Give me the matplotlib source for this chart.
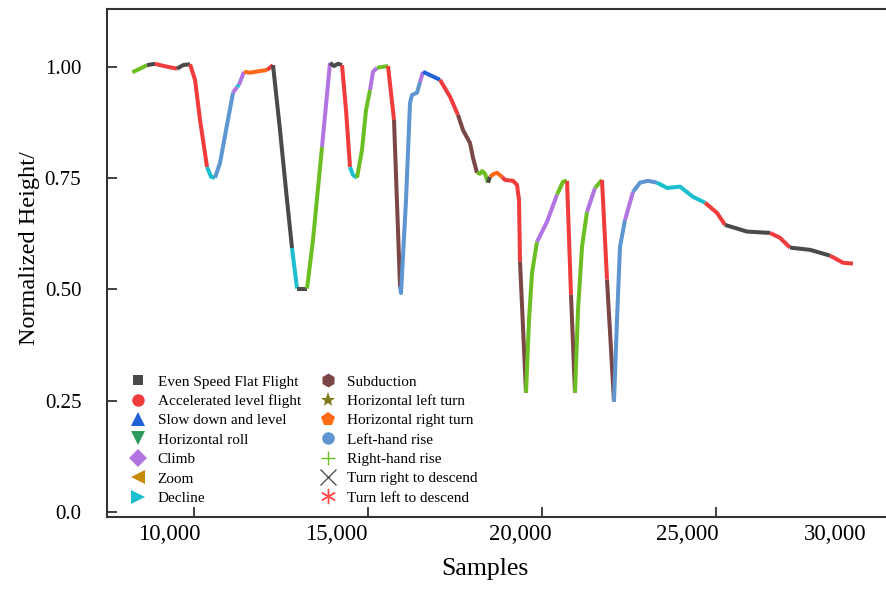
import matplotlib
matplotlib.use('Agg')
import matplotlib.pyplot as plt
from matplotlib.lines import Line2D
from matplotlib.transforms import ScaledTranslation

plt.rcParams['font.family'] = ['Liberation Serif', 'DejaVu Serif']

# flight path
samples = [8227, 8448, 8649, 8879, 9023, 9253, 9511, 9684, 9885, 10029,
           10172, 10374, 10489, 10603, 10747, 10920, 11121, 11236, 11293, 11437,
           11609, 11839, 12098, 12270, 12471, 12672, 12816, 12960, 13247, 13420,
           13678, 13908, 14023, 14138, 14253, 14368, 14483, 14569, 14684, 14828,
           14943, 15058, 15144, 15259, 15575, 15747, 15920, 15948, 16092, 16207,
           16264, 16408, 16494, 16581, 17069, 17356, 17586, 17730, 17931, 18017,
           18132, 18218, 18276, 18362, 18448, 18506, 18621, 18707, 18851, 18937,
           19167, 19282, 19339, 19368, 19540, 19627, 19713, 19856, 20144, 20431,
           20604, 20719, 20833, 20948, 21035, 21150, 21293, 21523, 21724, 21868,
           22069, 22155, 22242, 22385, 22615, 22816, 23046, 23305, 23592, 23966,
           24339, 24684, 25029, 25259, 25891, 26552, 26839, 27127, 27701, 28276,
           28650, 28937]
height = [0.988, 0.996, 1.004, 1.007, 1.004, 1.000, 0.996, 1.004, 1.006, 0.971,
          0.881, 0.775, 0.753, 0.751, 0.784, 0.858, 0.942, 0.955, 0.960, 0.989,
          0.987, 0.990, 0.993, 1.004, 0.858, 0.701, 0.593, 0.502, 0.502, 0.612,
          0.820, 1.009, 1.002, 1.007, 1.004, 0.903, 0.775, 0.757, 0.751, 0.814,
          0.903, 0.948, 0.989, 0.998, 1.002, 0.881, 0.506, 0.492, 0.701, 0.919,
          0.937, 0.942, 0.966, 0.989, 0.971, 0.933, 0.892, 0.858, 0.829, 0.796,
          0.762, 0.760, 0.766, 0.760, 0.740, 0.753, 0.760, 0.762, 0.753, 0.746,
          0.744, 0.735, 0.701, 0.562, 0.268, 0.432, 0.537, 0.607, 0.652, 0.713,
          0.742, 0.744, 0.488, 0.268, 0.454, 0.596, 0.674, 0.728, 0.746, 0.522,
          0.248, 0.432, 0.596, 0.656, 0.719, 0.740, 0.744, 0.740, 0.728, 0.731,
          0.708, 0.695, 0.672, 0.645, 0.630, 0.627, 0.616, 0.594, 0.589, 0.576,
          0.560, 0.558]
# state of the stretch that starts at each point
phase = ['RR', 'RR', 'E', 'A', 'A', 'A', 'E', 'E', 'A', 'A',
         'A', 'D', 'D', 'LR', 'LR', 'LR', 'C', 'D', 'C', 'HRT',
         'HRT', 'HRT', 'A', 'E', 'E', 'E', 'D', 'E', 'RR', 'RR',
         'C', 'E', 'E', 'E', 'A', 'A', 'D', 'D', 'RR', 'RR',
         'RR', 'C', 'C', 'RR', 'A', 'SU', 'LR', 'LR', 'LR', 'LR',
         'LR', 'LR', 'C', 'S', 'A', 'A', 'SU', 'SU', 'SU', 'SU',
         'RR', 'RR', 'RR', 'RR', 'E', 'HRT', 'HRT', 'HRT', 'A', 'A',
         'A', 'A', 'A', 'SU', 'RR', 'RR', 'RR', 'C', 'C', 'RR',
         'RR', 'A', 'SU', 'RR', 'RR', 'RR', 'C', 'RR', 'A', 'SU',
         'LR', 'LR', 'LR', 'C', 'LR', 'LR', 'LR', 'D', 'D', 'D',
         'D', 'A', 'A', 'E', 'E', 'A', 'A', 'E', 'E', 'A',
         'A']

phase_codes = ['E', 'A', 'S', 'HR', 'C', 'Z', 'D',
               'SU', 'HL', 'HRT', 'LR', 'RR', 'TRD', 'TLD']
phase_names = ['Even Speed Flat Flight', 'Accelerated level flight', 'Slow down and level',
               'Horizontal roll', 'Climb', 'Zoom', 'Decline',
               'Subduction', 'Horizontal left turn', 'Horizontal right turn',
               'Left-hand rise', 'Right-hand rise', 'Turn right to descend', 'Turn left to descend']

xticks = [10000, 15000, 20000, 25000, 30000]
xtick_labels = ['10,000', '15,000', '20,000', '25,000', '30,000']
yticks = [0.0, 0.25, 0.5, 0.75, 1.0]
ytick_labels = ['0.0', '0.25', '0.50', '0.75', '1.00']

colors = {'E': '#4a4a4a', 'A': '#f03c3c', 'S': '#1f62d8', 'HR': '#2f9a5f',
          'C': '#b274e0', 'Z': '#c88a0a', 'D': '#1cbfcf', 'SU': '#7a4646',
          'HL': '#7d7a1c', 'HRT': '#ff6814', 'LR': '#5e96d2', 'RR': '#6cbf22',
          'TRD': '#555555', 'TLD': '#ff4a4a'}
markers = {'E': 's', 'A': 'o', 'S': '^', 'HR': 'v', 'C': 'D', 'Z': '<', 'D': '>',
           'SU': 'h', 'HL': '*', 'HRT': 'p', 'LR': 'o', 'RR': '+', 'TRD': 'x',
           'TLD': (6, 2, 0)}
msizes = {'E': 7, 'A': 9, 'S': 10, 'HR': 10, 'C': 9, 'Z': 10, 'D': 10,
          'SU': 10, 'HL': 11, 'HRT': 10, 'LR': 9, 'RR': 10, 'TRD': 11, 'TLD': 11}

fig = plt.figure(figsize=(8.86, 5.89), dpi=100)
ax = fig.add_axes([0.1208, 0.1214, 0.8837, 0.8625])

n = len(phase)
start = 0
for i in range(1, n + 1):
    if i == n or phase[i] != phase[start]:
        ax.plot(samples[start:i + 1], height[start:i + 1], color=colors[phase[start]],
                lw=2.9, solid_capstyle='butt', solid_joinstyle='round')
        start = i

ax.set_xlim(7500, 30000)
ax.set_ylim(-0.0124, 1.129)
ax.set_xticks(xticks)
ax.set_xticklabels(xtick_labels, fontsize=16.5)
ax.set_yticks(yticks)
ax.set_yticklabels(ytick_labels, fontsize=15)
ax.tick_params(axis='both', direction='in', length=7.5, width=1.3, color='#333333')
ax.tick_params(axis='x', pad=5)
ax.tick_params(axis='y', pad=18.5)

# the original labels sit to the left of their ticks
label_shift = [-25, -32, -22, -29, -55]
for lab, dx in zip(ax.get_xticklabels(), label_shift):
    lab.set_transform(lab.get_transform() + ScaledTranslation(dx / 100, 0, fig.dpi_scale_trans))

for side in ['left', 'bottom', 'top']:
    ax.spines[side].set_linewidth(1.5)
    ax.spines[side].set_color('#333333')
ax.spines['right'].set_visible(False)

ax.set_xlabel('Samples', fontsize=18.5)
ax.xaxis.set_label_coords(0.482, -0.08)
ax.set_ylabel('Normalized Height/', fontsize=17.5)
ax.yaxis.set_label_coords(-0.085, 0.53)

handles = []
for code, name in zip(phase_codes, phase_names):
    handles.append(Line2D([], [], ls='none', marker=markers[code], markersize=msizes[code],
                          color=colors[code], markeredgewidth=1.0 if code in ('RR', 'TRD', 'TLD') else 0,
                          label=name))
ax.legend(handles=handles, ncol=2, loc='upper left', bbox_to_anchor=(0.147, 0.3633),
          bbox_transform=fig.transFigure, frameon=False, fontsize=11,
          handlelength=1.0, handletextpad=0.8, columnspacing=1.25, labelspacing=0.37,
          borderpad=0, borderaxespad=0)

fig.savefig('out.png', dpi=100)
